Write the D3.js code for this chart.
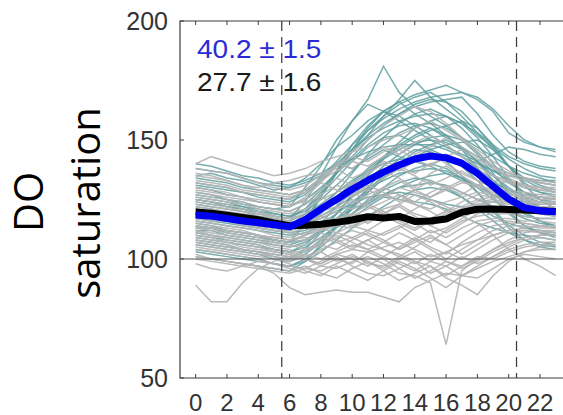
<!DOCTYPE html>
<html>
<head>
<meta charset="utf-8">
<script src="https://cdn.jsdelivr.net/npm/d3@7"></script>
<style>
body { margin: 0; background: #fff; }
text { font-family: "Liberation Sans", Arial, sans-serif; }
</style>
</head>
<body>
<svg width="563" height="415"></svg>
<script>
var hours = d3.range(0, 24)
var xTicks = [0, 2, 4, 6, 8, 10, 12, 14, 16, 18, 20, 22]
var yTicks = [50, 100, 150, 200]
var dawnDusk = [5.5, 20.5]
var labels = [{text: "40.2 \u00b1 1.5", color: "#2b2bd6"}, {text: "27.7 \u00b1 1.6", color: "#1a1a1a"}]

var meanTeal = [118.5,118,117,116,115.2,114.4,113.5,116.5,121,125,129.3,133,136.5,139.5,142,143.3,142.5,140.3,136,130.5,125.2,121.6,120.3,119.8]
var meanGray = [119.8,119.2,118.4,117.5,116.5,115.2,114,114.2,114.6,115.4,116.4,117.8,117.2,117.9,115.8,116,116.8,119.6,120.9,121,120.8,120.6,120.3,120]

var tealDays = [
	[128,127,125,124,122,121,122,130,139,150,158,167,181,170,164,160,156,151,147,143,139,136,134,132],
	[122,121,119,118,116,115,114,119,127,136,145,152,160,167,175,168,163,158,152,147,142,138,135,134],
	[135,136,134,133,131,129,130,134,140,147,152,158,162,166,169,171,173,170,167,162,153,149,147,145],
	[125,124,122,121,120,118,117,121,128,137,146,154,160,165,168,170,166,160,153,146,139,134,131,129],
	[131,130,129,128,126,125,124,127,133,139,146,152,157,161,164,166,167,168,161,152,145,141,139,138],
	[118,117,116,115,114,113,112,117,126,136,146,155,162,166,161,157,152,147,141,135,130,126,124,123],
	[121,120,119,117,116,115,114,116,121,128,136,144,151,157,161,163,160,155,148,140,133,128,125,124],
	[115,114,112,111,110,108,107,110,115,122,129,136,143,149,155,158,160,157,151,143,134,126,121,119],
	[130,129,127,126,124,123,122,125,130,136,142,148,153,156,157,155,151,147,143,139,136,134,132,131],
	[108,107,106,104,103,101,100,104,111,119,127,135,142,148,152,155,152,146,138,129,120,114,111,109],
	[126,125,124,122,121,119,118,121,127,134,141,147,151,152,149,146,143,140,136,132,129,127,126,125],
	[112,112,110,109,108,107,106,108,112,117,123,129,135,140,145,148,150,147,141,133,125,119,116,114],
	[138,137,136,134,132,131,130,132,135,139,142,145,147,148,148,148,146,143,140,137,135,134,133,133],
	[101,100,99,98,97,96,95,99,106,114,122,130,137,142,146,145,141,135,128,120,113,108,105,104],
	[117,116,115,114,113,112,111,112,115,119,124,129,134,138,141,143,144,141,136,130,124,121,119,118],
	[123,122,121,120,118,117,116,119,123,128,133,137,140,142,141,139,136,133,130,127,125,124,123,123],
	[106,105,104,103,102,100,99,102,107,113,119,125,130,135,138,140,138,134,128,121,114,110,107,106],
	[119,118,118,116,115,114,113,115,118,122,126,130,133,136,137,138,137,134,131,127,124,122,121,120],
	[113,113,111,110,109,108,107,108,111,115,119,123,127,130,133,135,136,134,130,125,120,117,115,114],
	[109,108,107,106,105,104,103,105,109,114,119,124,129,132,134,133,130,126,122,118,115,113,112,111],
	[116,115,114,113,112,111,110,111,114,117,121,124,127,130,131,132,131,128,125,122,120,118,117,117],
	[103,102,101,100,99,98,97,99,103,108,113,118,122,126,129,130,129,126,121,116,111,108,106,105],
	[121,120,119,117,116,115,114,115,117,120,123,126,127,128,127,125,123,122,121,120,120,121,121,121],
	[140,139,137,135,134,132,131,133,136,140,138,142,146,143,141,145,142,139,141,144,147,146,144,143],
	[111,110,109,108,107,106,105,107,111,116,122,128,134,139,143,146,148,149,150,146,139,131,125,121],
	[124,123,122,121,119,118,117,124,135,147,158,165,162,158,154,150,147,144,141,137,133,130,128,127],
	[120,119,118,117,116,114,113,116,120,126,132,138,143,147,151,154,156,158,155,148,139,132,128,126],
	[104,103,102,101,100,98,97,100,105,111,117,122,126,125,124,123,121,118,115,113,111,110,109,108],
	[114,113,112,111,110,108,107,115,126,137,148,156,162,160,156,152,148,143,138,133,128,124,121,120],
	[132,131,130,128,127,126,125,128,134,141,148,154,159,163,166,168,169,170,168,163,156,150,147,146],
	[127,126,125,123,122,121,120,123,129,136,143,150,156,161,165,167,166,162,155,147,139,133,130,128],
	[110,109,108,107,106,104,103,106,112,119,126,133,139,144,148,151,152,150,144,136,127,120,116,113],
	[134,133,132,130,129,128,127,129,134,140,146,151,155,158,160,161,160,157,153,148,143,140,138,137],
	[118,117,116,115,114,113,112,114,119,125,131,137,142,146,149,150,149,146,141,135,129,125,122,121],
	[107,106,105,104,103,102,101,103,108,114,121,128,134,139,142,144,143,139,133,126,119,114,111,110],
	[125,124,123,122,120,119,118,120,125,131,137,143,148,153,156,157,155,151,145,138,132,128,126,125]
]

var grayDays = [
	[89,82,82,90,96,99,101,100,98,102,104,103,105,107,104,101,103,106,108,110,112,113,114,114],
	[112,110,108,107,106,104,103,100,97,96,99,101,98,94,93,90,64,95,100,104,108,111,112,112],
	[102,100,99,98,97,94,88,85,86,87,86,86,84,82,88,91,94,93,96,99,101,103,104,104],
	[98,96,95,97,99,98,96,94,97,100,98,103,100,96,99,94,97,93,92,96,100,102,101,100],
	[108,107,106,104,103,101,99,101,104,107,109,106,104,102,99,97,92,89,85,93,99,103,105,106],
	[140,143,141,139,137,135,136,138,141,143,145,147,150,152,155,158,154,150,146,141,137,134,132,131],
	[136,135,133,131,130,132,133,135,136,138,134,137,141,139,136,140,142,139,137,135,133,131,130,130],
	[130,129,128,126,125,124,123,124,126,123,127,129,126,130,128,126,129,132,131,129,127,126,126,125],
	[125,124,123,121,120,118,117,118,120,122,121,124,127,125,123,121,124,126,128,127,126,125,124,124],
	[121,120,119,118,117,116,114,113,115,117,119,118,121,123,119,117,120,122,125,124,123,122,122,121],
	[118,117,116,115,113,112,111,110,112,114,113,116,118,115,112,116,119,121,123,124,122,121,120,120],
	[115,114,113,112,110,109,108,109,108,111,114,112,110,113,117,114,111,115,119,121,121,120,119,119],
	[112,111,110,109,108,106,105,106,109,107,104,108,111,114,110,107,112,116,118,119,119,118,117,117],
	[110,109,107,106,105,103,102,104,106,109,112,110,107,104,108,112,109,113,116,117,117,116,116,115],
	[106,105,104,103,102,101,100,102,100,103,106,104,101,105,109,105,102,107,111,114,115,115,114,113],
	[127,126,125,124,122,121,120,123,127,131,129,133,137,134,130,136,139,135,131,128,127,126,125,125],
	[133,132,131,129,128,127,126,128,132,129,126,131,128,124,129,133,130,127,131,133,132,131,130,129],
	[123,122,121,120,119,117,116,115,118,121,125,122,119,123,127,124,120,124,127,126,125,124,124,123],
	[119,118,117,116,114,113,112,114,117,120,118,115,119,122,118,114,117,121,124,125,124,123,122,122],
	[116,115,114,113,112,110,109,111,113,111,109,112,116,119,115,111,113,117,121,122,121,120,119,118],
	[104,103,102,101,100,98,97,96,99,102,100,97,101,98,95,99,103,100,104,108,111,112,112,111],
	[128,127,126,125,124,123,122,126,132,139,145,150,156,160,164,162,157,151,145,139,134,131,129,128],
	[132,131,130,128,127,126,125,129,134,140,138,143,147,144,149,152,148,143,139,135,132,130,129,128],
	[126,125,124,123,121,120,119,121,125,128,132,129,134,138,135,131,134,137,133,130,128,127,126,126],
	[109,108,107,105,104,103,102,100,98,101,97,94,93,96,92,95,99,97,100,104,107,109,110,110],
	[114,113,112,111,110,108,107,108,111,108,105,108,104,101,105,109,106,110,114,116,116,115,114,114],
	[138,137,136,134,132,130,129,131,135,139,143,141,145,148,144,147,151,147,143,139,136,134,133,132],
	[100,99,98,97,96,95,94,96,95,98,101,99,96,100,103,99,97,101,98,101,105,108,109,108],
	[114,113,112,111,110,109,108,110,113,116,114,117,120,116,113,117,120,118,115,110,104,100,97,93],
	[124,123,122,120,119,118,117,119,122,125,123,127,130,127,124,128,131,128,125,126,125,124,123,123],
	[120,119,118,117,116,115,113,115,118,116,119,123,120,117,121,125,122,119,122,124,124,123,122,121],
	[117,116,116,114,113,112,111,113,112,115,118,121,124,127,123,120,116,119,123,122,121,120,120,119],
	[105,104,103,102,101,100,98,95,93,97,94,91,95,99,96,92,88,93,97,101,104,106,107,107],
	[111,110,109,108,107,105,104,101,103,99,102,98,97,101,98,102,99,96,99,103,106,109,110,110],
	[101,100,99,98,97,96,95,97,94,92,96,99,95,91,94,97,93,97,101,100,103,105,106,106],
	[129,128,127,126,124,123,122,125,129,134,131,136,140,137,141,145,140,136,133,131,129,128,127,127],
	[122,121,120,119,118,116,115,117,120,124,128,125,130,133,129,126,130,133,130,127,126,125,124,124],
	[107,106,105,104,103,102,101,103,106,104,108,111,108,104,107,110,106,102,106,110,112,112,111,111],
	[135,134,133,131,129,128,127,129,133,137,141,139,143,146,142,139,143,146,142,138,135,133,132,131],
	[113,112,111,110,109,107,106,104,107,110,107,104,107,111,108,104,100,104,108,112,114,114,113,113]
]

var svg = d3.select("svg")
var x = d3.scaleLinear().domain([-1, 24]).range([180, 571.3])
var y = d3.scaleLinear().domain([50, 200]).range([378, 21])
var axisColor = "#3c3c3c"

svg.append("clipPath").attr("id", "plot")
	.append("rect").attr("x", 180).attr("y", 21).attr("width", 392).attr("height", 357)

var line = d3.line().x((d, i) => x(hours[i])).y(d => y(d))
var plot = svg.append("g").attr("clip-path", "url(#plot)")

plot.selectAll("path.teal")
	.data(tealDays)
	.enter()
	.append("path")
	.attr("class", "teal")
	.attr("d", line)
	.style("fill", "none")
	.style("stroke", "#5f9fa0")
	.style("stroke-width", 1.5)
	.style("opacity", 0.85)

plot.selectAll("path.gray")
	.data(grayDays)
	.enter()
	.append("path")
	.attr("class", "gray")
	.attr("d", line)
	.style("fill", "none")
	.style("stroke", "#b2b2b2")
	.style("stroke-width", 1.5)
	.style("opacity", 0.9)

plot.append("line")
	.attr("x1", x(-1)).attr("x2", x(24))
	.attr("y1", y(100)).attr("y2", y(100))
	.style("stroke", "#555").style("stroke-width", 1.2)

plot.selectAll("line.dash")
	.data(dawnDusk)
	.enter()
	.append("line")
	.attr("class", "dash")
	.attr("x1", d => x(d)).attr("x2", d => x(d))
	.attr("y1", y(200)).attr("y2", y(50))
	.style("stroke", "#444").style("stroke-width", 1.3)
	.style("stroke-dasharray", "10,6")

plot.append("path")
	.attr("d", line(meanGray))
	.style("fill", "none").style("stroke", "#000").style("stroke-width", 7)
	.style("stroke-linejoin", "round")

plot.append("path")
	.attr("d", line(meanTeal))
	.style("fill", "none").style("stroke", "#0000f0").style("stroke-width", 7)
	.style("stroke-linejoin", "round")

// box and ticks
svg.append("path")
	.attr("d", `M${x(24)},${y(200)}H${x(-1)}V${y(50)}H${x(24)}`)
	.style("fill", "none").style("stroke", axisColor).style("stroke-width", 1.2)

svg.selectAll("line.xtick")
	.data(xTicks.concat(xTicks))
	.enter()
	.append("line")
	.attr("class", "xtick")
	.attr("x1", d => x(d)).attr("x2", d => x(d))
	.attr("y1", (d, i) => i < xTicks.length ? y(50) : y(200))
	.attr("y2", (d, i) => i < xTicks.length ? y(50) - 4 : y(200) + 4)
	.style("stroke", axisColor)

svg.selectAll("line.ytick")
	.data(yTicks)
	.enter()
	.append("line")
	.attr("class", "ytick")
	.attr("x1", x(-1)).attr("x2", x(-1) + 4)
	.attr("y1", d => y(d)).attr("y2", d => y(d))
	.style("stroke", axisColor)

svg.selectAll("text.xlab")
	.data(xTicks)
	.enter()
	.append("text")
	.attr("class", "xlab")
	.attr("x", d => x(d))
	.attr("y", 411)
	.attr("text-anchor", "middle")
	.style("font-size", "24px")
	.style("fill", "#333")
	.text(d => d)

svg.selectAll("text.ylab")
	.data(yTicks)
	.enter()
	.append("text")
	.attr("class", "ylab")
	.attr("x", 168)
	.attr("y", d => y(d))
	.attr("dy", "0.36em")
	.attr("text-anchor", "end")
	.style("font-size", "25px")
	.style("fill", "#333")
	.text(d => d)

svg.selectAll("text.stat")
	.data(labels)
	.enter()
	.append("text")
	.attr("class", "stat")
	.attr("transform", (d, i) => `translate(${197},${58 + i * 33}) scale(1.12,1)`)
	.style("font-size", "25px")
	.style("fill", d => d.color)
	.text(d => d.text)

svg.append("text")
	.attr("transform", "translate(43,202) rotate(-90)")
	.attr("text-anchor", "middle")
	.style("font-family", "'Open Sans', sans-serif")
	.style("font-size", "40px")
	.style("fill", "#000")
	.text("DO")

svg.append("text")
	.attr("transform", "translate(100,203) rotate(-90)")
	.attr("text-anchor", "middle")
	.style("font-family", "'Open Sans', sans-serif")
	.style("font-size", "40px")
	.style("fill", "#000")
	.text("saturation")
</script>
</body>
</html>
